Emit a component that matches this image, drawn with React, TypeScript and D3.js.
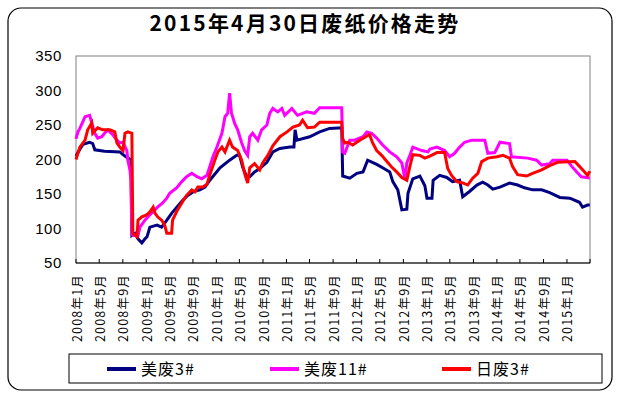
import React from "react";
import * as d3 from "d3";

// 美废3#
const us3: [string, number][] = [
  ["2008-01-01", 205], ["2008-01-21", 215], ["2008-02-06", 222], ["2008-03-12", 225], ["2008-03-28", 223],
  ["2008-04-08", 214], ["2008-05-29", 212], ["2008-08-16", 211], ["2008-09-02", 207], ["2008-09-27", 202],
  ["2008-10-13", 200], ["2008-10-18", 90], ["2008-11-03", 93], ["2008-11-19", 85], ["2008-12-09", 79],
  ["2008-12-25", 85], ["2009-01-05", 88], ["2009-01-20", 102], ["2009-02-26", 105], ["2009-03-22", 102],
  ["2009-04-18", 112], ["2009-05-13", 122], ["2009-06-09", 131], ["2009-07-10", 141], ["2009-08-05", 148],
  ["2009-09-01", 153], ["2009-10-07", 156], ["2009-11-03", 160], ["2009-11-28", 170], ["2010-01-20", 188],
  ["2010-03-11", 199], ["2010-04-17", 206], ["2010-05-02", 206], ["2010-05-18", 189], ["2010-06-08", 175],
  ["2010-06-24", 175], ["2010-07-19", 182], ["2010-08-15", 187], ["2010-09-21", 196], ["2010-10-22", 211],
  ["2010-11-28", 216], ["2011-01-19", 218], ["2011-02-09", 218], ["2011-02-15", 243], ["2011-02-25", 228],
  ["2011-05-02", 233], ["2011-06-23", 240], ["2011-08-14", 245], ["2011-10-16", 246], ["2011-10-21", 176],
  ["2011-11-27", 173], ["2012-01-03", 180], ["2012-02-04", 182], ["2012-02-28", 199], ["2012-04-15", 193],
  ["2012-05-16", 188], ["2012-06-22", 182], ["2012-07-08", 168], ["2012-08-03", 156], ["2012-08-24", 127],
  ["2012-09-19", 128], ["2012-09-25", 151], ["2012-10-20", 172], ["2012-11-26", 176], ["2012-12-22", 162],
  ["2013-01-02", 144], ["2013-01-28", 144], ["2013-02-03", 170], ["2013-03-09", 177], ["2013-04-15", 174],
  ["2013-05-15", 168], ["2013-06-21", 170], ["2013-07-07", 146], ["2013-08-13", 154], ["2013-09-19", 163],
  ["2013-10-19", 167], ["2013-11-15", 163], ["2013-12-11", 157], ["2014-01-17", 160], ["2014-03-08", 166],
  ["2014-04-19", 163], ["2014-05-25", 159], ["2014-07-06", 156], ["2014-08-22", 156], ["2014-10-03", 152],
  ["2014-11-25", 145], ["2015-01-16", 144], ["2015-03-07", 138], ["2015-03-23", 131], ["2015-04-18", 134],
  ["2015-04-30", 134],
];

// 美废11#
const us11: [string, number][] = [
  ["2008-01-01", 230], ["2008-01-11", 240], ["2008-01-21", 245], ["2008-02-06", 255], ["2008-02-17", 262],
  ["2008-03-12", 264], ["2008-03-23", 253], ["2008-04-08", 238], ["2008-04-23", 231], ["2008-05-14", 233],
  ["2008-05-29", 238], ["2008-06-15", 243], ["2008-07-10", 236], ["2008-08-01", 228], ["2008-08-16", 224],
  ["2008-09-02", 225], ["2008-09-22", 213], ["2008-09-27", 199], ["2008-10-08", 185], ["2008-10-13", 170],
  ["2008-10-18", 93], ["2008-10-23", 90], ["2008-11-19", 90], ["2008-11-29", 102], ["2008-12-25", 112],
  ["2009-01-20", 120], ["2009-02-06", 124], ["2009-03-01", 131], ["2009-03-27", 137], ["2009-04-18", 144],
  ["2009-05-03", 151], ["2009-06-09", 159], ["2009-07-05", 168], ["2009-07-30", 175], ["2009-08-26", 180],
  ["2009-09-22", 175], ["2009-10-17", 172], ["2009-11-13", 177], ["2009-12-14", 204], ["2010-01-04", 218],
  ["2010-01-30", 238], ["2010-02-15", 262], ["2010-03-01", 267], ["2010-03-11", 296], ["2010-03-21", 267],
  ["2010-04-07", 252], ["2010-04-22", 243], ["2010-05-13", 224], ["2010-05-28", 213], ["2010-06-13", 206],
  ["2010-06-24", 233], ["2010-07-09", 238], ["2010-08-05", 228], ["2010-08-25", 243], ["2010-09-21", 250],
  ["2010-10-06", 267], ["2010-10-22", 274], ["2010-11-17", 269], ["2010-12-08", 274], ["2010-12-23", 264],
  ["2011-01-29", 274], ["2011-02-28", 264], ["2011-04-16", 269], ["2011-05-27", 267], ["2011-06-23", 275],
  ["2011-10-16", 275], ["2011-10-21", 211], ["2011-11-01", 209], ["2011-11-17", 221], ["2011-11-27", 228],
  ["2011-12-22", 228], ["2012-02-04", 233], ["2012-02-24", 240], ["2012-03-20", 238], ["2012-04-15", 231],
  ["2012-05-16", 221], ["2012-06-22", 211], ["2012-07-28", 204], ["2012-08-24", 195], ["2012-09-09", 172],
  ["2012-09-19", 195], ["2012-10-05", 206], ["2012-10-20", 218], ["2012-12-06", 213], ["2013-01-07", 211],
  ["2013-01-17", 215], ["2013-02-23", 218], ["2013-04-04", 213], ["2013-04-30", 204], ["2013-05-26", 209],
  ["2013-06-21", 218], ["2013-07-17", 225], ["2013-08-23", 228], ["2013-10-30", 228], ["2013-11-15", 209],
  ["2013-12-21", 210], ["2014-01-17", 225], ["2014-03-08", 223], ["2014-03-18", 204], ["2014-06-10", 202],
  ["2014-07-27", 199], ["2014-08-22", 192], ["2014-10-03", 194], ["2014-10-19", 199], ["2015-01-01", 199],
  ["2015-01-26", 190], ["2015-02-21", 182], ["2015-03-17", 175], ["2015-04-30", 173],
];

// 日废3#
const jp3: [string, number][] = [
  ["2008-01-01", 200], ["2008-01-21", 218], ["2008-02-17", 228], ["2008-03-02", 243], ["2008-03-23", 253],
  ["2008-03-28", 238], ["2008-04-23", 246], ["2008-05-19", 243], ["2008-06-25", 243], ["2008-07-21", 240],
  ["2008-08-01", 224], ["2008-08-16", 218], ["2008-09-02", 213], ["2008-09-12", 238], ["2008-09-27", 240],
  ["2008-10-18", 238], ["2008-10-23", 93], ["2008-11-14", 88], ["2008-11-19", 112], ["2008-12-09", 117],
  ["2009-01-05", 120], ["2009-01-20", 124], ["2009-02-06", 131], ["2009-02-16", 122], ["2009-03-01", 117],
  ["2009-03-22", 112], ["2009-04-07", 105], ["2009-04-18", 93], ["2009-05-13", 93], ["2009-05-18", 112],
  ["2009-06-09", 125], ["2009-07-05", 137], ["2009-07-30", 148], ["2009-08-26", 156], ["2009-09-11", 153],
  ["2009-09-27", 160], ["2009-10-22", 160], ["2009-11-13", 164], ["2009-11-28", 178], ["2009-12-24", 199],
  ["2010-01-09", 211], ["2010-01-30", 218], ["2010-02-15", 211], ["2010-03-11", 228], ["2010-03-26", 218],
  ["2010-04-22", 213], ["2010-05-13", 199], ["2010-05-28", 180], ["2010-06-13", 166], ["2010-06-24", 188],
  ["2010-07-19", 194], ["2010-08-15", 185], ["2010-08-30", 195], ["2010-09-26", 206], ["2010-10-22", 220],
  ["2010-11-28", 233], ["2011-01-04", 240], ["2011-02-04", 247], ["2011-03-10", 250], ["2011-03-26", 257],
  ["2011-04-21", 246], ["2011-05-27", 247], ["2011-06-23", 254], ["2011-10-16", 254], ["2011-10-21", 230],
  ["2011-11-01", 224], ["2011-11-17", 225], ["2011-12-12", 221], ["2012-01-18", 228], ["2012-02-24", 234],
  ["2012-03-09", 236], ["2012-03-25", 224], ["2012-04-15", 213], ["2012-05-11", 206], ["2012-06-07", 197],
  ["2012-07-02", 189], ["2012-07-28", 182], ["2012-08-24", 174], ["2012-09-19", 170], ["2012-10-05", 190],
  ["2012-10-20", 207], ["2012-11-26", 206], ["2012-12-22", 202], ["2013-01-17", 205], ["2013-02-23", 210],
  ["2013-04-04", 210], ["2013-04-20", 187], ["2013-05-10", 177], ["2013-06-06", 168], ["2013-07-07", 166],
  ["2013-08-02", 163], ["2013-08-28", 173], ["2013-09-24", 180], ["2013-10-14", 197], ["2013-11-15", 202],
  ["2014-01-01", 204], ["2014-02-02", 206], ["2014-03-08", 202], ["2014-03-23", 190], ["2014-04-19", 178],
  ["2014-06-05", 176], ["2014-07-06", 180], ["2014-08-22", 185], ["2014-10-03", 191], ["2014-11-14", 196],
  ["2015-02-11", 197], ["2015-03-07", 190], ["2015-04-03", 182], ["2015-04-18", 177], ["2015-04-30", 183],
];

const xTickMonths = [
  "2008-01", "2008-05", "2008-09", "2009-01", "2009-05", "2009-09", "2010-01", "2010-05",
  "2010-09", "2011-01", "2011-05", "2011-09", "2012-01", "2012-05", "2012-09", "2013-01",
  "2013-05", "2013-09", "2014-01", "2014-05", "2014-09", "2015-01",
];
const yTicks = [50, 100, 150, 200, 250, 300, 350];

const series = [
  { name: "美废3#", color: "#000080", data: us3 },
  { name: "美废11#", color: "#FF00FF", data: us11 },
  { name: "日废3#", color: "#FF0000", data: jp3 },
];

const W = 619;
const H = 396;
const plot = { left: 76, right: 590, top: 56, bottom: 263 };

const parseDay = d3.timeParse("%Y-%m-%d");
const parseMonth = d3.timeParse("%Y-%m");
const fmtMonth = d3.timeFormat("%Y年%-m月");

export default function App() {
  const x = d3
    .scaleTime()
    .domain([new Date(2008, 0, 1), new Date(2015, 4, 1)])
    .range([plot.left, plot.right]);
  const y = d3.scaleLinear().domain([50, 350]).range([plot.bottom, plot.top]);

  const line = d3
    .line<[string, number]>()
    .x((d) => x(parseDay(d[0]) as Date))
    .y((d) => y(d[1]));

  const tickDates = xTickMonths.map((m) => parseMonth(m) as Date);
  const tickMarks = [...tickDates, new Date(2015, 4, 1)];

  const legendX = [107, 270, 442];

  return (
    <div>
      <style>{"body{margin:0}"}</style>
      <svg width={W} height={H} style={{ display: "block", background: "#fff" }}>
        <rect x={8} y={8} width={604} height={382} rx={13} fill="#fff" stroke="#000" strokeWidth={1.2} />

        <text
          x={305}
          y={31}
          textAnchor="middle"
          fontFamily="'Noto Sans CJK SC', serif"
          fontWeight="bold"
          fontSize={21}
          letterSpacing={2.2}
        >
          2015年4月30日废纸价格走势
        </text>

        {/* plot frame */}
        <rect
          x={plot.left}
          y={plot.top}
          width={plot.right - plot.left}
          height={plot.bottom - plot.top}
          fill="none"
          stroke="#808080"
          strokeWidth={1}
        />
        <line x1={plot.left} x2={plot.right} y1={plot.bottom} y2={plot.bottom} stroke="#000" strokeWidth={1} />

        {/* y labels */}
        {yTicks.map((t) => (
          <text
            key={t}
            x={62}
            y={y(t)}
            dy="0.36em"
            textAnchor="end"
            fontFamily="'Liberation Sans', Arial, sans-serif"
            fontSize={15}
            letterSpacing={0.6}
          >
            {t}
          </text>
        ))}

        {/* x ticks */}
        {tickMarks.map((d, i) => (
          <line key={i} x1={x(d)} x2={x(d)} y1={plot.bottom} y2={plot.bottom - 4} stroke="#000" strokeWidth={1} />
        ))}
        {tickDates.map((d, i) => (
          <text
            key={i}
            transform={`translate(${x(d) + 1},${plot.bottom + 11}) rotate(-90)`}
            dy="0.36em"
            textAnchor="end"
            fontFamily="'Noto Sans CJK SC', sans-serif"
            fontSize={12.5}
            letterSpacing={1.2}
          >
            {fmtMonth(d)}
          </text>
        ))}

        {/* series */}
        {series.map((s) => (
          <path
            key={s.name}
            d={line(s.data) || ""}
            fill="none"
            stroke={s.color}
            strokeWidth={3}
            strokeLinejoin="miter"
          />
        ))}

        {/* legend */}
        <rect x={69} y={354} width={533} height={29} fill="#fff" stroke="#000" strokeWidth={1} />
        {series.map((s, i) => (
          <g key={s.name}>
            <line x1={legendX[i]} x2={legendX[i] + 29} y1={369} y2={369} stroke={s.color} strokeWidth={4} />
            <text
              x={legendX[i] + 34}
              y={369}
              dy="0.36em"
              fontFamily="'Noto Sans CJK SC', sans-serif"
              fontSize={16}
              letterSpacing={1}
            >
              {s.name}
            </text>
          </g>
        ))}
      </svg>
    </div>
  );
}
